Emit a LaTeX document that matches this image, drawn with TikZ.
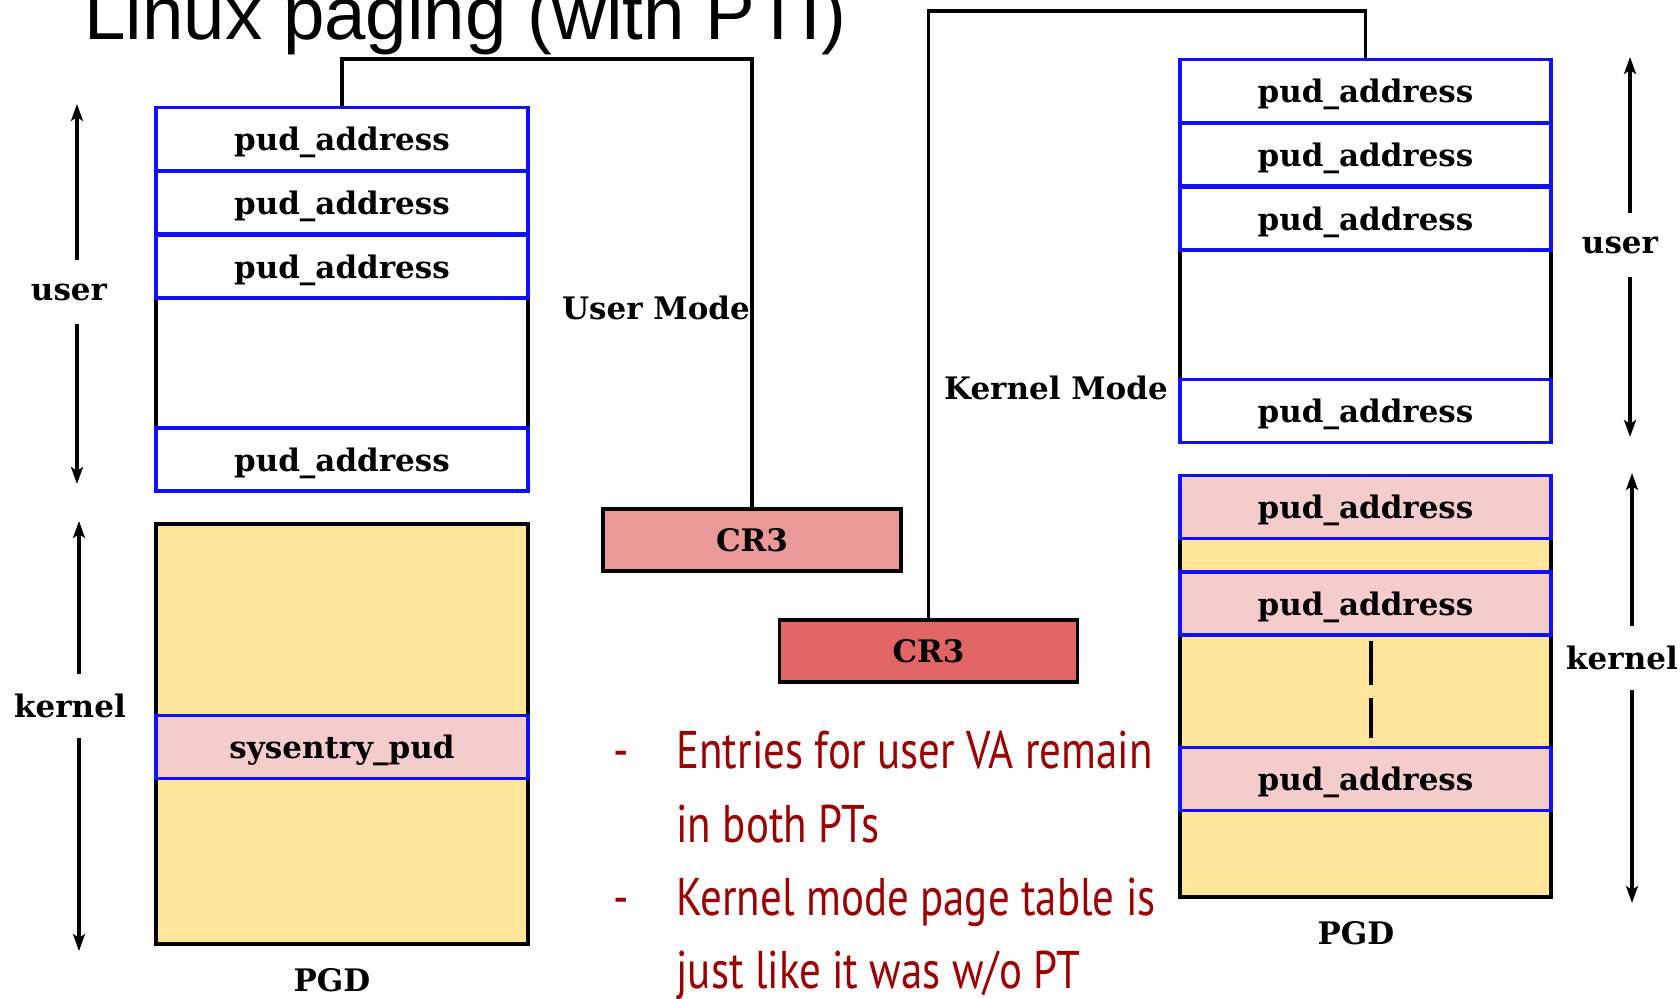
\documentclass[tikz,border=0pt]{standalone}
\usepackage{fontspec}
\setmainfont{DejaVu Serif}
\newfontfamily\titlefont{Liberation Sans}
\newfontfamily\notefont[FakeStretch=0.81]{PT Sans}
\newfontfamily\lblfont{DejaVu Serif}
\usetikzlibrary{arrows.meta,calc}

\definecolor{pudblue}{HTML}{1010FF}
\definecolor{pudpink}{HTML}{F4CCCC}
\definecolor{kernyellow}{HTML}{FFE599}
\definecolor{cruser}{HTML}{EA9999}
\definecolor{crkern}{HTML}{E06666}
\definecolor{notered}{HTML}{990000}

\tikzset{
  lbl/.style={font=\lblfont\bfseries\fontsize{15.5pt}{18pt}\selectfont},
  frame/.style={draw=black, line width=1.6pt, inner sep=0pt, minimum width=186pt},
  pudrow/.style={draw=pudblue, line width=1.6pt, fill=white, inner sep=0pt,
                 minimum width=186pt, minimum height=31.5pt, text depth=0pt, lbl},
  krow/.style={pudrow, fill=pudpink},
  cr3box/.style={draw=black, line width=1.6pt, inner sep=0pt, minimum width=149pt,
                 minimum height=31pt, lbl},
  conn/.style={draw=black, line width=1.75pt},
  rangelbl/.style={lbl, inner sep=0pt, minimum height=32pt},
  rangearrow/.style={line width=1.6pt, -{Stealth[length=8.5pt,width=6pt,inset=2pt]}},
  note/.style={font=\notefont\fontsize{26.5pt}{32pt}\selectfont, text=notered, anchor=base west, inner sep=0pt}
}

\begin{document}
\begin{tikzpicture}[x=0.5pt,y=-0.5pt]
\useasboundingbox (0,0) rectangle (1680,999);

% title
\node[font=\titlefont\fontsize{37.25pt}{40pt}\selectfont, anchor=base west, inner sep=0pt] (title) at (84,40) {Linux paging (with PTI)};

% ---- user-mode PGD (left) ----
\node[frame, minimum height=191pt] (Luser) at (342,299) {};
\node[pudrow] (L1) at (342,139) {pud\_address};
\node[pudrow] (L2) at (342,202.5) {pud\_address};
\node[pudrow] (L3) at (342,266.5) {pud\_address};
\node[pudrow] (L4) at (342,459.5) {pud\_address};
\node[frame, fill=kernyellow, minimum height=210pt] (Lkern) at (342,734) {};
\node[krow] (Lsys) at (342,747) {sysentry\_pud};
\node[lbl] (Lpgd) at (332,980) {PGD};

% ---- kernel-mode PGD (right) ----
\node[frame, minimum width=185.5pt, minimum height=191pt] (Ruser) at (1365.5,251) {};
\node[pudrow, minimum width=185.5pt] (R1) at (1365.5,91) {pud\_address};
\node[pudrow, minimum width=185.5pt] (R2) at (1365.5,154.5) {pud\_address};
\node[pudrow, minimum width=185.5pt] (R3) at (1365.5,218.5) {pud\_address};
\node[pudrow, minimum width=185.5pt] (R4) at (1365.5,411) {pud\_address};
\node[frame, fill=kernyellow, minimum width=185.5pt, minimum height=210.5pt] (Rkern) at (1365.5,686.5) {};
\node[krow, minimum width=185.5pt] (R5) at (1365.5,507) {pud\_address};
\node[krow, minimum width=185.5pt] (R6) at (1365.5,603.5) {pud\_address};
\node[krow, minimum width=185.5pt] (R7) at (1365.5,779) {pud\_address};
\node[lbl] (Rpgd) at (1356,933) {PGD};
\draw[line width=1.6pt, dash pattern=on 22pt off 6.5pt]
  ($(R6.south)+(5.5,4)$) -- ($(R7.north)+(5.5,-8)$);

% ---- CR3 registers ----
\node[cr3box, fill=cruser] (CRu) at (752,540) {CR3};
\node[cr3box, fill=crkern] (CRk) at (928.5,651) {CR3};

\coordinate (utop) at (342,59);
\coordinate (ktop) at (1365.5,11);
\draw[conn] (Luser.north) -- (utop) -| (CRu.north);
\draw[conn] (CRk.north) |- (ktop) -- (Ruser.north);

\node[lbl] (umode) at (656,308) {User Mode};
\node[lbl] (kmode) at (1056,388) {Kernel Mode};

% ---- address range arrows ----
\node[rangelbl] (Lu) at (69,292) {user};
\coordinate (Lut) at (77,104);
\coordinate (Lub) at (77,484);
\draw[rangearrow] (Lu.north -| Lut) -- (Lut);
\draw[rangearrow] (Lu.south -| Lub) -- (Lub);

\node[rangelbl] (Lk) at (70,706) {kernel};
\coordinate (Lkt) at (79,521);
\coordinate (Lkb) at (79,951);
\draw[rangearrow] (Lk.north -| Lkt) -- (Lkt);
\draw[rangearrow] (Lk.south -| Lkb) -- (Lkb);

\node[rangelbl] (Ru) at (1620,245) {user};
\coordinate (Rut) at (1630,57);
\coordinate (Rub) at (1630,437);
\draw[rangearrow] (Ru.north -| Rut) -- (Rut);
\draw[rangearrow] (Ru.south -| Rub) -- (Rub);

\node[rangelbl] (Rk) at (1622,658) {kernel};
\coordinate (Rkt) at (1632,473);
\coordinate (Rkb) at (1632,903);
\draw[rangearrow] (Rk.north -| Rkt) -- (Rkt);
\draw[rangearrow] (Rk.south -| Rkb) -- (Rkb);

% ---- notes ----
\node[note] (b1) at (613,768) {-};
\node[note] (n1) at (676,768) {Entries for user VA remain};
\node[note] (n2) at (676,842) {in both PTs};
\node[note] (b2) at (613,915) {-};
\node[note] (n3) at (676,915) {Kernel mode page table is};
\node[note] (n4) at (676,988) {just like it was w/o PT};
\end{tikzpicture}
\end{document}
